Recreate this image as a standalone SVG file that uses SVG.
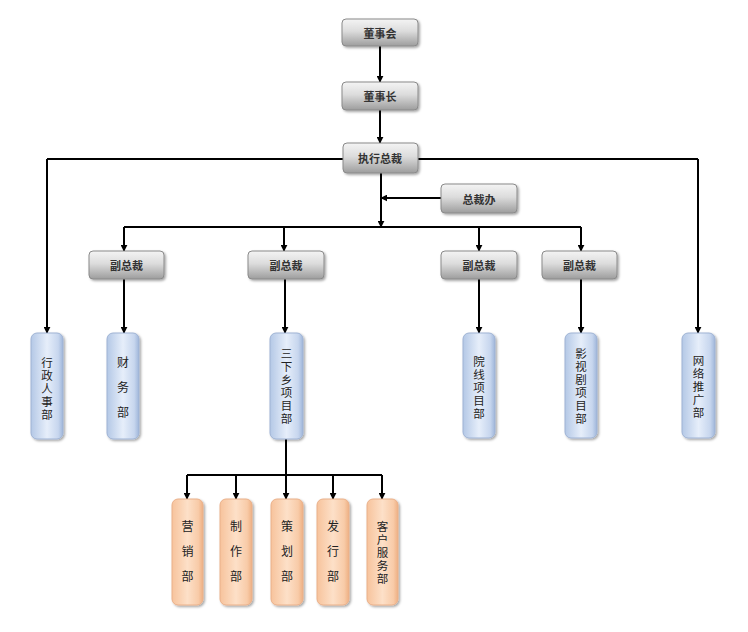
<svg xmlns="http://www.w3.org/2000/svg" width="748" height="632" viewBox="0 0 748 632">
<defs>
<linearGradient id="gGray" x1="0" y1="0" x2="0" y2="1">
<stop offset="0" stop-color="#f4f4f4"/><stop offset="0.45" stop-color="#dcdcdc"/><stop offset="1" stop-color="#9d9d9d"/>
</linearGradient>
<linearGradient id="gBlue" x1="0" y1="0" x2="1" y2="0">
<stop offset="0" stop-color="#b4c8e6"/><stop offset="0.5" stop-color="#e6eefa"/><stop offset="0.85" stop-color="#c7d6ee"/><stop offset="1" stop-color="#9fb6da"/>
</linearGradient>
<linearGradient id="gOrange" x1="0" y1="0" x2="1" y2="0">
<stop offset="0" stop-color="#f7c39c"/><stop offset="0.5" stop-color="#fde0c8"/><stop offset="0.85" stop-color="#f8cba8"/><stop offset="1" stop-color="#eeb083"/>
</linearGradient>
<filter id="sh" x="-20%" y="-20%" width="150%" height="150%">
<feDropShadow dx="1.5" dy="1.5" stdDeviation="1.2" flood-color="#000" flood-opacity="0.35"/>
</filter>
<marker id="arr" viewBox="0 0 10 10" refX="9" refY="5" markerWidth="7" markerHeight="7" markerUnits="userSpaceOnUse" orient="auto">
<path d="M0,0 L10,5 L0,10 z" fill="#000"/>
</marker>
</defs>
<style>
.gray{fill:url(#gGray);stroke:#8a8a8a;stroke-width:1;filter:url(#sh)}
.blue{fill:url(#gBlue);stroke:#9fb3d4;stroke-width:1;filter:url(#sh)}
.orange{fill:url(#gOrange);stroke:#eab08a;stroke-width:1;filter:url(#sh)}
.h{font-family:"Noto Sans CJK SC","Noto Sans",sans-serif;font-size:11px;font-weight:bold;fill:#333;text-anchor:middle;dominant-baseline:central}
.v{font-family:"Noto Sans CJK SC","Noto Sans",sans-serif;font-size:12px;fill:#222;text-anchor:middle;writing-mode:vertical-rl;letter-spacing:13px}
.vd{font-family:"Noto Sans CJK SC","Noto Sans",sans-serif;font-size:11.5px;fill:#222;text-anchor:middle;writing-mode:vertical-rl;letter-spacing:1.5px}
.c{fill:none;stroke:#000;stroke-width:2}
.ca{fill:none;stroke:#000;stroke-width:2;marker-end:url(#arr)}
</style>
<g id="connectors">
<path class="ca" d="M380,46 V82"/>
<path class="ca" d="M380,110 V143"/>
<path class="c" d="M343,159 H47"/>
<path class="ca" d="M47,159 V333"/>
<path class="c" d="M418,159 H698"/>
<path class="ca" d="M698,159 V333"/>
<path class="ca" d="M381,173 V227"/>
<path class="ca" d="M441,198 H381"/>
<path class="c" d="M124,227 H581"/>
<path class="ca" d="M124,227 V251"/>
<path class="ca" d="M284,227 V251"/>
<path class="ca" d="M479,227 V251"/>
<path class="ca" d="M581,227 V251"/>
<path class="ca" d="M124,279 V333"/>
<path class="ca" d="M285,279 V333"/>
<path class="ca" d="M479,279 V333"/>
<path class="ca" d="M581,279 V333"/>
<path class="c" d="M286,439 V475"/>
<path class="c" d="M187,475 H382"/>
<path class="ca" d="M187,475 V499"/>
<path class="ca" d="M236,475 V499"/>
<path class="ca" d="M286,475 V499"/>
<path class="ca" d="M333,475 V499"/>
<path class="ca" d="M382,475 V499"/>
</g>
<g id="n-dongshihui"><rect class="gray" x="342" y="19" width="76" height="27" rx="4"/><text class="h" x="380" y="33">董事会</text></g>
<g id="n-dongshizhang"><rect class="gray" x="342" y="82" width="76" height="28" rx="4"/><text class="h" x="380" y="96">董事长</text></g>
<g id="n-zhixingzongcai"><rect class="gray" x="343" y="143" width="75" height="30" rx="4"/><text class="h" x="380" y="158">执行总裁</text></g>
<g id="n-zongcaiban"><rect class="gray" x="441" y="184" width="76" height="29" rx="4"/><text class="h" x="479" y="198.5">总裁办</text></g>
<g id="n-fu1"><rect class="gray" x="89" y="251" width="75" height="28" rx="4"/><text class="h" x="126.5" y="265">副总裁</text></g>
<g id="n-fu2"><rect class="gray" x="248" y="251" width="76" height="28" rx="4"/><text class="h" x="286" y="265">副总裁</text></g>
<g id="n-fu3"><rect class="gray" x="441" y="251" width="76" height="28" rx="4"/><text class="h" x="479" y="265">副总裁</text></g>
<g id="n-fu4"><rect class="gray" x="542" y="251" width="75" height="28" rx="4"/><text class="h" x="579.5" y="265">副总裁</text></g>
<g id="n-xingzheng"><rect class="blue" x="31" y="333" width="32" height="106" rx="6"/><text class="vd" x="47" y="389">行政人事部</text></g>
<g id="n-caiwu"><rect class="blue" x="107" y="333" width="32" height="106" rx="6"/><text class="v" x="123" y="393.5">财务部</text></g>
<g id="n-sanxiaxiang"><rect class="blue" x="270" y="333" width="33" height="106" rx="6"/><text class="vd" x="286.5" y="387">三下乡项目部</text></g>
<g id="n-yuanxian"><rect class="blue" x="463" y="333" width="32" height="105" rx="6"/><text class="vd" x="479" y="388">院线项目部</text></g>
<g id="n-yingshiju"><rect class="blue" x="565" y="333" width="32" height="105" rx="6"/><text class="vd" x="581" y="387">影视剧项目部</text></g>
<g id="n-wangluo"><rect class="blue" x="682" y="333" width="33" height="105" rx="6"/><text class="vd" x="698.5" y="387">网络推广部</text></g>
<g id="n-yingxiao"><rect class="orange" x="172" y="499" width="31" height="106" rx="6"/><text class="v" x="187.5" y="558">营销部</text></g>
<g id="n-zhizuo"><rect class="orange" x="220" y="499" width="32" height="106" rx="6"/><text class="v" x="236" y="558">制作部</text></g>
<g id="n-cehua"><rect class="orange" x="271" y="499" width="32" height="106" rx="6"/><text class="v" x="287" y="558">策划部</text></g>
<g id="n-faxing"><rect class="orange" x="317" y="499" width="32" height="106" rx="6"/><text class="v" x="333" y="558">发行部</text></g>
<g id="n-kehu"><rect class="orange" x="367" y="499" width="31" height="106" rx="6"/><text class="vd" x="382.5" y="553">客户服务部</text></g>
</svg>
